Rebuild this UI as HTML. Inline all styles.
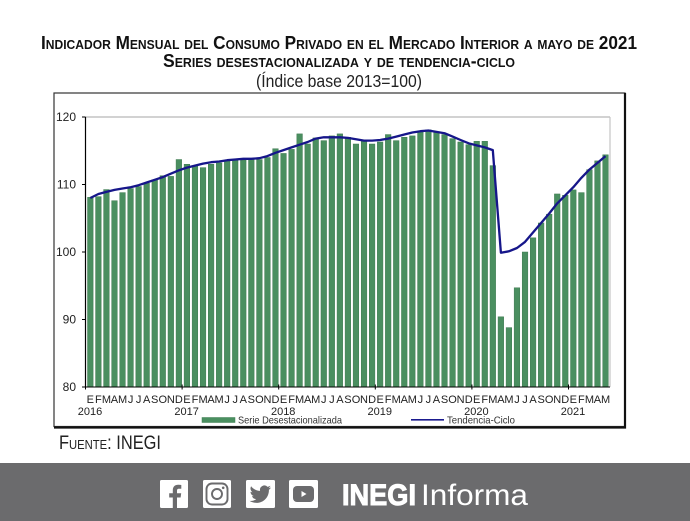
<!DOCTYPE html>
<html lang="es">
<head>
<meta charset="utf-8">
<title>Indicador Mensual del Consumo Privado</title>
<style>
html,body{margin:0;padding:0;background:#fff;}
svg{display:block;font-family:"Liberation Sans",Arial,sans-serif;}
</style>
</head>
<body>
<svg id="root" width="690" height="521" viewBox="0 0 690 521" xmlns="http://www.w3.org/2000/svg">
  <rect x="0" y="0" width="690" height="521" fill="#ffffff"/>
  <text x="339" y="49" text-anchor="middle" font-size="18.5" font-weight="bold" fill="#111" style="font-variant:small-caps" textLength="596" lengthAdjust="spacingAndGlyphs">Indicador Mensual del Consumo Privado en el Mercado Interior a mayo de 2021</text>
  <text x="339" y="67" text-anchor="middle" font-size="18.5" font-weight="bold" fill="#111" style="font-variant:small-caps" textLength="352" lengthAdjust="spacingAndGlyphs">Series desestacionalizada y de tendencia-ciclo</text>
  <text x="339" y="87" text-anchor="middle" font-size="17.5" fill="#222" textLength="166" lengthAdjust="spacingAndGlyphs">(Índice base 2013=100)</text>

  <rect x="54" y="93" width="571" height="333.5" fill="#fff" stroke="#333" stroke-width="1.2"/>
  <path d="M625 93V427.5H54" fill="none" stroke="#111" stroke-width="2.2"/>

  <g id="plot"></g>

  <rect x="202" y="417.5" width="33" height="5" fill="#4a8f60" stroke="#3f7f52" stroke-width="0.5"/>
  <text x="238" y="423.5" font-size="10.5" fill="#333" textLength="104" lengthAdjust="spacingAndGlyphs">Serie Desestacionalizada</text>
  <line x1="411" y1="419.8" x2="444" y2="419.8" stroke="#1b1b8f" stroke-width="1.6"/>
  <text x="447" y="423.5" font-size="10.5" fill="#333" textLength="68" lengthAdjust="spacingAndGlyphs">Tendencia-Ciclo</text>

  <text x="59" y="449" font-size="19" fill="#222" style="font-variant:small-caps" textLength="102" lengthAdjust="spacingAndGlyphs">Fuente: INEGI</text>

  <g>
    <rect x="0" y="463" width="690" height="58" fill="#6b6b6d"/>
    <g>
      <rect x="160" y="480" width="28" height="28" rx="1.5" fill="#fff"/>
      <path d="M177 508V497.5h3.6l.6-4.2H177v-2.6c0-1.2.4-2 2-2h2.3V485c-.6-.1-1.8-.2-3.2-.2-3.1 0-5.3 1.9-5.3 5.4v3.1h-3.6v4.2h3.6V508z" fill="#6b6b6d"/>
    </g>
    <g>
      <rect x="203" y="480" width="28" height="28" rx="1.5" fill="#fff"/>
      <rect x="206.5" y="483.5" width="21" height="21" rx="5.5" fill="none" stroke="#6b6b6d" stroke-width="1.9"/>
      <circle cx="217" cy="494" r="5" fill="none" stroke="#6b6b6d" stroke-width="1.9"/>
      <circle cx="223.2" cy="487.8" r="1.3" fill="#6b6b6d"/>
    </g>
    <g>
      <rect x="246" y="480" width="29" height="28" rx="1.5" fill="#fff"/>
      <path d="M271 487.5c-.8.4-1.6.6-2.5.7.9-.5 1.6-1.4 1.9-2.4-.8.5-1.8.9-2.8 1.1a4.4 4.4 0 0 0-7.5 4c-3.6-.2-6.9-1.9-9-4.6-1.2 2-.6 4.6 1.4 5.9-.7 0-1.4-.2-2-.5 0 2.1 1.5 3.9 3.5 4.3-.6.2-1.3.2-2 .1.6 1.8 2.2 3 4.1 3-1.9 1.5-4.2 2.1-6.5 1.8 2 1.3 4.3 2 6.8 2 8.2 0 12.8-6.9 12.5-13.1.9-.6 1.6-1.4 2.1-2.3z" fill="#6b6b6d"/>
    </g>
    <g>
      <rect x="289" y="480" width="29" height="28" rx="1.5" fill="#fff"/>
      <rect x="293" y="486" width="21" height="16" rx="4" fill="#6b6b6d"/>
      <path d="M301.5 491v6l5-3z" fill="#fff"/>
    </g>
    <text x="342" y="505" font-size="30" font-weight="bold" fill="#fff" stroke="#fff" stroke-width="1" textLength="74" lengthAdjust="spacingAndGlyphs">INEGI</text>
    <text x="421" y="505" font-size="30" fill="#fff" textLength="107" lengthAdjust="spacingAndGlyphs">Informa</text>
  </g>
</svg>
<script>
var monthLabels = ["E","F","M","A","M","J","J","A","S","O","N","D"];
var yearLabels = ["2016","2017","2018","2019","2020","2021"];
var yTicks = [80,90,100,110,120];
var serieValues = [
  108.1,108.2,109.25,107.6,108.8,109.4,109.7,110.2,110.7,111.3,111.2,113.7,
  113.0,112.7,112.5,113.0,113.2,113.5,113.6,113.6,113.7,113.7,114.0,115.3,
  114.6,115.2,117.5,116.0,116.9,116.5,117.2,117.5,117.0,116.0,116.4,116.0,
  116.3,117.4,116.5,117.0,117.2,117.8,118.1,117.8,117.4,116.8,116.3,115.9,
  116.4,116.4,112.8,90.4,88.8,94.7,100.0,102.1,104.3,105.6,108.6,108.4,
  109.2,108.8,112.2,113.5,114.4
];
var tendenciaValues = [
  108.0,108.6,108.9,109.2,109.4,109.6,109.9,110.3,110.7,111.1,111.6,112.1,
  112.5,112.8,113.1,113.3,113.4,113.6,113.7,113.8,113.8,113.9,114.2,114.7,
  115.1,115.5,115.9,116.3,116.8,117.0,117.0,117.0,116.9,116.7,116.5,116.5,
  116.6,116.8,117.1,117.4,117.7,117.9,118.0,117.8,117.6,117.1,116.6,116.1,
  115.8,115.5,115.1,99.9,100.1,100.6,101.5,102.9,104.3,105.7,107.2,108.4,
  109.6,111.0,112.2,113.2,114.2
];

var NS = "http://www.w3.org/2000/svg";
var plot = document.getElementById("plot");
var plotLeft = 85.5, plotRight = 610, monthStep = 8.05, barOrigin = 86.3;
var yTop = 117, yBottom = 387, yMin = 80, yMax = 120;

function xScale(i){ return barOrigin + monthStep * (i + 0.5); }
function yScale(v){ return yBottom - (v - yMin) / (yMax - yMin) * (yBottom - yTop); }
function add(tag, attrs, text){
  var el = document.createElementNS(NS, tag);
  for (var k in attrs) el.setAttribute(k, attrs[k]);
  if (text !== undefined) el.textContent = text;
  plot.appendChild(el);
  return el;
}

var grid = add("line", {x1: plotLeft, y1: yScale(yMax), x2: plotRight, y2: yScale(yMax), stroke: "#c4c4c4", "stroke-width": 1.4});


var rightEdge = add("line", {x1: plotRight, y1: yScale(yMax), x2: plotRight, y2: yScale(yMin), stroke: "#c4c4c4", "stroke-width": 1.2});



serieValues.forEach(function(v, i){
  var top = yScale(v);
  var bar = add("rect", {x: xScale(i) - 2.8, y: top, width: 5.6, height: yScale(yMin) - top, fill: "#4a8f60", stroke: "#3f7a50", "stroke-width": 0.5});
  
  
});

var yAxis = add("line", {x1: plotLeft, y1: yScale(yMax), x2: plotLeft, y2: yScale(yMin), stroke: "#000", "stroke-width": 1.2});


var xAxis = add("line", {x1: plotLeft - 3.5, y1: yScale(yMin), x2: plotRight, y2: yScale(yMin), stroke: "#000", "stroke-width": 1});



yTicks.forEach(function(t){
  var tick = add("line", {x1: plotLeft - 3.5, y1: yScale(t), x2: plotLeft, y2: yScale(t), stroke: "#000", "stroke-width": 1});
  
  
  var label = add("text", {x: 76, y: yScale(t) + 4, "text-anchor": "end", "font-size": 12, fill: "#222"}, String(t));
  
  
});

serieValues.forEach(function(v, i){
  var m = add("text", {x: xScale(i), y: 403, "text-anchor": "middle", "font-size": 11, fill: "#222"}, monthLabels[i % 12]);
  
  
});

yearLabels.forEach(function(y, j){
  var xp = plotLeft + monthStep * 12 * j;
  var tick = add("line", {x1: xp, y1: yScale(yMin) - 2.5, x2: xp, y2: yScale(yMin) + 2.5, stroke: "#000", "stroke-width": 1});
  
  
  var label = add("text", {x: xp + 4.5, y: 415, "text-anchor": "middle", "font-size": 11, fill: "#222"}, y);
  
  
});

var pts = tendenciaValues.map(function(v, i){ return xScale(i).toFixed(1) + "," + yScale(v).toFixed(1); }).join(" ");
var trend = add("polyline", {points: pts, fill: "none", stroke: "#16168a", "stroke-width": 2.3, "stroke-linejoin": "round"});


</script>
</body>
</html>
